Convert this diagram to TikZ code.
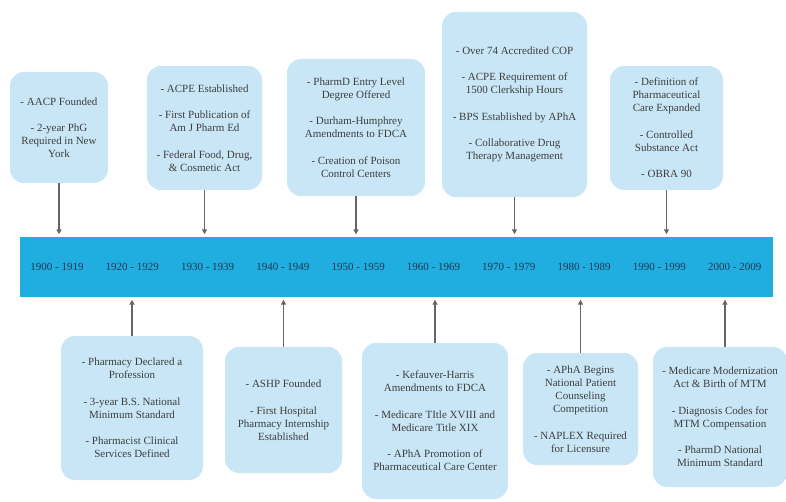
\documentclass[tikz,border=0pt]{standalone}
\usepackage{fontspec}
\setmainfont{Liberation Serif}
\usetikzlibrary{arrows.meta, positioning, calc}
\definecolor{bandblue}{HTML}{1FAEDF}
\definecolor{boxblue}{HTML}{C9E6F6}
\definecolor{ink}{HTML}{3E3E3E}
\definecolor{yearink}{HTML}{203852}
\definecolor{linkgray}{HTML}{666666}
\newcommand{\gap}{\\[13.5pt]}
\tikzset{
  eventbox/.style={fill=boxblue, rounded corners=14pt, align=center, text=ink,
    inner sep=0pt, font=\fontsize{11}{13}\selectfont},
  yearlbl/.style={text=yearink, font=\fontsize{11}{13}\selectfont},
  link/.style={-{Triangle[width=5pt,length=5pt]}, linkgray, line width=1.3pt, shorten >=2.5pt}
}

\begin{document}
\begin{tikzpicture}[x=1pt, y=-1pt]
  \useasboundingbox (0,0) rectangle (786,502);
  % Timeline band
  \node[fill=bandblue, minimum width=753pt, minimum height=60pt, inner sep=0pt] (band) at (396.5,267) {};
  \foreach \yr [count=\i from 0] in {1900 - 1919, 1920 - 1929, 1930 - 1939, 1940 - 1949, 1950 - 1959,
      1960 - 1969, 1970 - 1979, 1980 - 1989, 1990 - 1999, 2000 - 2009}
    \node[yearlbl] (yr\i) at ({57+75.3*\i},267) {\yr};

  % Events above
  \node[eventbox, minimum width=98pt, minimum height=111pt] (tA) at (59,127.5)
    {- AACP Founded\gap - 2-year PhG\\Required in New\\York};
  \node[eventbox, minimum width=115pt, minimum height=124pt] (tB) at (204.5,128)
    {- ACPE Established\gap - First Publication of\\Am J Pharm Ed\gap - Federal Food, Drug,\\\& Cosmetic Act};
  \node[eventbox, minimum width=138pt, minimum height=137pt] (tC) at (356,127.5)
    {- PharmD Entry Level\\Degree Offered\gap - Durham-Humphrey\\Amendments to FDCA\gap - Creation of Poison\\Control Centers};
  \node[eventbox, minimum width=145pt, minimum height=185pt] (tD) at (514.5,104.5)
    {- Over 74 Accredited COP\gap - ACPE Requirement of\\1500 Clerkship Hours\gap - BPS Established by APhA\gap - Collaborative Drug\\Therapy Management};
  \node[eventbox, minimum width=113pt, minimum height=124pt] (tE) at (666.5,128)
    {- Definition of\\Pharmaceutical\\Care Expanded\gap - Controlled\\Substance Act\gap - OBRA 90};

  % Events below
  \node[eventbox, minimum width=142pt, minimum height=144pt] (bA) at (132,408)
    {- Pharmacy Declared a\\Profession\gap - 3-year B.S. National\\Minimum Standard\gap - Pharmacist Clinical\\Services Defined};
  \node[eventbox, minimum width=117pt, minimum height=126pt] (bB) at (283.5,410)
    {- ASHP Founded\gap - First Hospital\\Pharmacy Internship\\Established};
  \node[eventbox, minimum width=146pt, minimum height=156pt] (bC) at (435,421)
    {- Kefauver-Harris\\Amendments to FDCA\gap - Medicare TItle XVIII and\\Medicare Title XIX\gap - APhA Promotion of\\Pharmaceutical Care Center};
  \node[eventbox, minimum width=115pt, minimum height=112pt] (bD) at (580.5,409)
    {- APhA Begins\\National Patient\\Counseling\\Competition\gap - NAPLEX Required\\for Licensure};
  \node[eventbox, minimum width=134pt, minimum height=140pt] (bE) at (720,417)
    {- Medicare Modernization\\Act \& Birth of MTM\gap - Diagnosis Codes for\\MTM Compensation\gap - PharmD National\\Minimum Standard};

  % Connectors
  \foreach \b in {tA,tB,tC,tD,tE}
    \draw[link] (\b.south) -- (\b.south |- band.north);
  \foreach \b in {bA,bB,bC,bD}
    \draw[link] (\b.north) -- (\b.north |- band.south);
  \draw[link] ([xshift=5pt]bE.north) -- ([xshift=5pt]bE.north |- band.south);
\end{tikzpicture}
\end{document}
